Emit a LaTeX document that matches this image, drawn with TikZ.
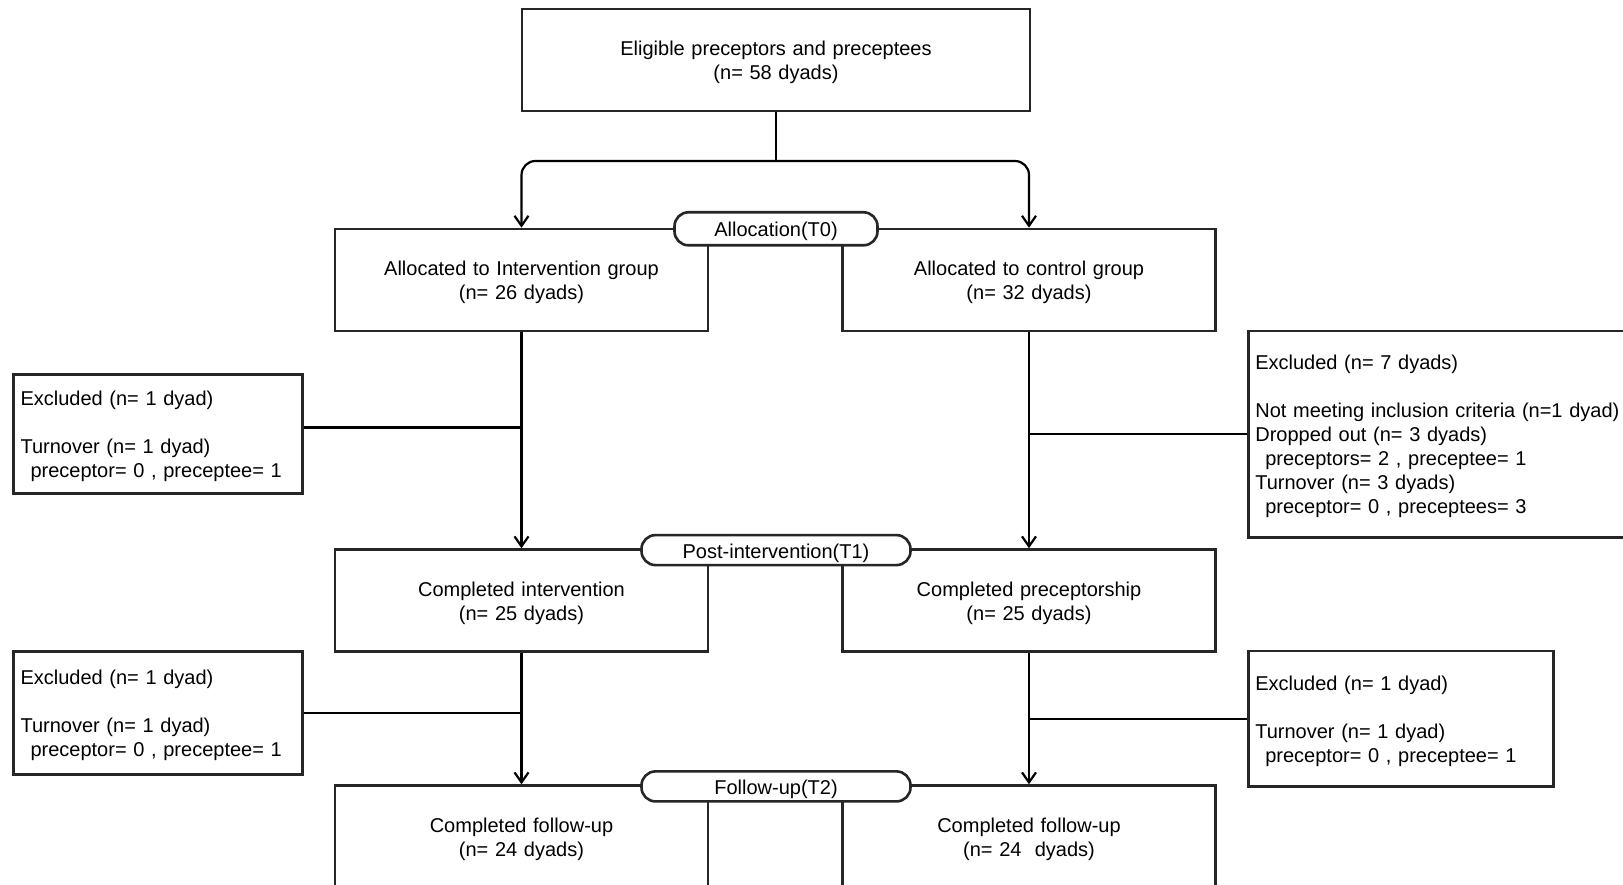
\documentclass[tikz,border=0pt]{standalone}
\usepackage{fontspec}
\setmainfont{Liberation Sans}
\usetikzlibrary{arrows.meta}
\begin{document}
\begin{tikzpicture}[x=1pt,y=-1pt,
  every node/.style={font=\fontsize{20}{24}\selectfont, text=black},
  lower/.style={execute at begin node={\rule{0pt}{#1}}},
  box/.style={draw=black!85, line width=2.6pt, text width=#1, minimum height=102pt, align=center, inner sep=0pt, lower=19pt},
  box/.default=373pt,
  excl/.style={draw=black!85, line width=2.6pt, align=left, inner xsep=7pt, inner ysep=0pt, lower=19pt},
  pill/.style={draw=black!85, fill=white, line width=2.6pt, rounded corners=14pt, inner sep=0pt, lower=20.5pt},
  conn/.style={draw=black, line width=2.2pt},
  arr/.style={conn, -{Straight Barb[length=10pt,width=14pt]}}
]
\useasboundingbox (0,0) rectangle (1623,885);
\fill[white] (0,0) rectangle (1623,885);
\clip (0,0) rectangle (1623,885);

% main boxes
\node[box=508pt] (top) at (776,60) {Eligible preceptors and preceptees\\(n= 58 dyads)};
\node[box] (b1L) at (521.5,280) {Allocated to Intervention group\\(n= 26 dyads)};
\node[box] (b1R) at (1029,280) {Allocated to control group\\(n= 32 dyads)};
\node[box] (b2L) at (521.5,600.6) {Completed intervention\\(n= 25 dyads)};
\node[box] (b2R) at (1029,600.6) {Completed preceptorship\\(n= 25 dyads)};
\node[box] (b3L) at (521.5,836.6) {Completed follow-up\\(n= 24 dyads)};
\node[box] (b3R) at (1029,836.6) {Completed follow-up\\(n= 24\ \ dyads)};

% exclusion boxes
\node[excl, text width=274.7pt, minimum height=119pt] (e1L) at (157.9,434.2)
  {Excluded (n= 1 dyad)\\[24pt]Turnover (n= 1 dyad)\\\hspace*{10pt}preceptor= 0 , preceptee= 1};
\node[excl, text width=378pt, minimum height=206pt] (e1R) at (1444.3,434.2)
  {Excluded (n= 7 dyads)\\[24pt]Not meeting inclusion criteria (n=1 dyad)\\Dropped out (n= 3 dyads)\\\hspace*{10pt}preceptors= 2 , preceptee= 1\\Turnover (n= 3 dyads)\\\hspace*{10pt}preceptor= 0 , preceptees= 3};
\node[excl, text width=274.7pt, minimum height=123pt] (e2L) at (157.9,712.7)
  {Excluded (n= 1 dyad)\\[24pt]Turnover (n= 1 dyad)\\\hspace*{10pt}preceptor= 0 , preceptee= 1};
\node[excl, text width=291.4pt, minimum height=135.6pt] (e2R) at (1401,718.9)
  {Excluded (n= 1 dyad)\\[24pt]Turnover (n= 1 dyad)\\\hspace*{10pt}preceptor= 0 , preceptee= 1};

% connectors
\coordinate (split) at (776,161);
\draw[conn] (top.south) -- (split);
\draw[arr, rounded corners=14pt] (split) -| (b1L.north);
\draw[arr, rounded corners=14pt] (split) -| (b1R.north);
\draw[arr] (b1L.south) -- (b2L.north);
\draw[arr] (b1R.south) -- (b2R.north);
\draw[arr] (b2L.south) -- (b3L.north);
\draw[arr] (b2R.south) -- (b3R.north);
\coordinate (j1L) at (521.5,427.5);
\draw[conn] (e1L.east |- j1L) -- (j1L);
\draw[conn] (e1R.west) -- (e1R.west -| b1R.south);
\draw[conn] (e2L.east) -- (e2L.east -| b2L.south);
\draw[conn] (e2R.west) -- (e2R.west -| b2R.south);

% stage labels
\node[pill, minimum width=203pt, minimum height=33pt] (t0) at (776,228.8) {Allocation(T0)};
\node[pill, minimum width=269pt, minimum height=30pt] (t1) at (776,550.1) {Post-intervention(T1)};
\node[pill, minimum width=269pt, minimum height=30pt] (t2) at (776,786.4) {Follow-up(T2)};
\end{tikzpicture}
\end{document}
